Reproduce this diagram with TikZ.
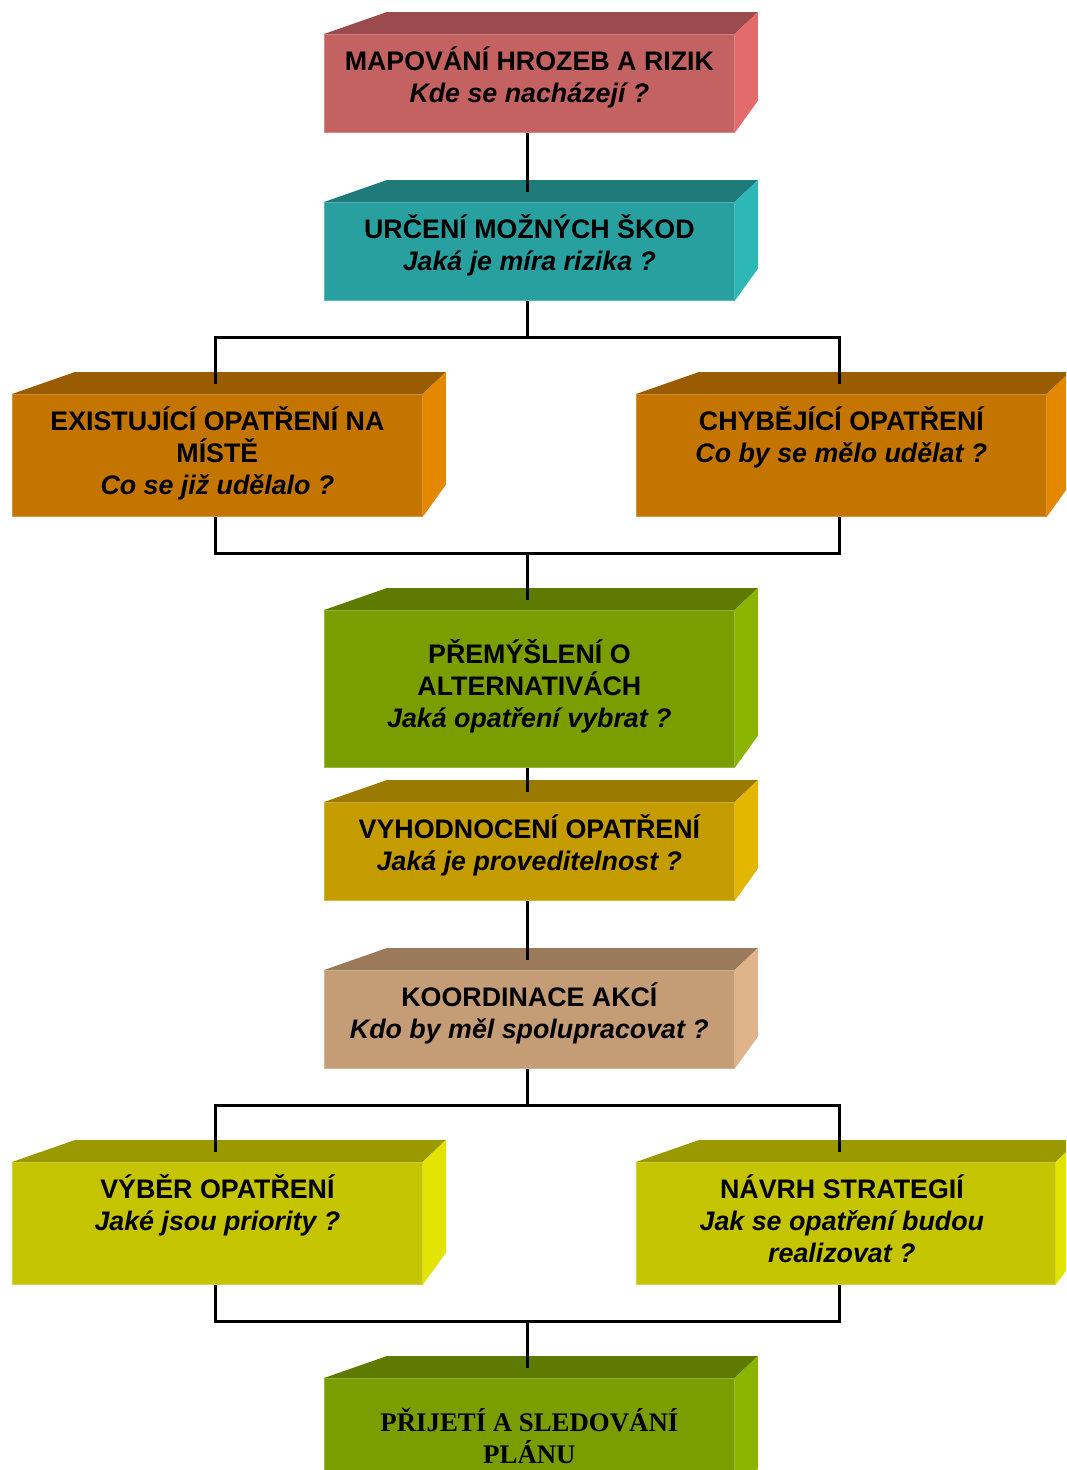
\documentclass[tikz,border=0pt]{standalone}
\usepackage{fontspec}
\setmainfont{Liberation Sans}
\newfontfamily\serifbold{Liberation Serif}
\usetikzlibrary{calc}
\definecolor{redF}{HTML}{C46262}\definecolor{redT}{HTML}{9B4B4D}\definecolor{redR}{HTML}{E36B6B}
\definecolor{tealF}{HTML}{29A0A0}\definecolor{tealT}{HTML}{1F7B79}\definecolor{tealR}{HTML}{2DB7B7}
\definecolor{orF}{HTML}{C47500}\definecolor{orT}{HTML}{9A5C00}\definecolor{orR}{HTML}{E38800}
\definecolor{grF}{HTML}{7A9E00}\definecolor{grT}{HTML}{5E7A00}\definecolor{grR}{HTML}{8AB400}
\definecolor{goF}{HTML}{C49C00}\definecolor{goT}{HTML}{9A7A00}\definecolor{goR}{HTML}{E3B600}
\definecolor{tanF}{HTML}{C49C76}\definecolor{tanT}{HTML}{9A7A5A}\definecolor{tanR}{HTML}{E0B48A}
\definecolor{ylF}{HTML}{C4C400}\definecolor{ylT}{HTML}{9A9A00}\definecolor{ylR}{HTML}{E3E300}
\newcommand\fl{\rule{0pt}{25pt}}
\newcommand\boxsides[3]{%
  \fill[#2] (#1.north west) -- (#1.north east) -- ($(#1.north east)+(23,-22)$) -- ($(#1.north west)+(63,-22)$) -- cycle;
  \fill[#3] (#1.north east) -- ($(#1.north east)+(23,-22)$) -- ($(#1.south east)+(23,-32)$) -- (#1.south east) -- cycle;}
\tikzset{
  front/.style={draw=#1!75!white, fill=#1, line width=0.8pt, inner sep=0pt, anchor=north west, minimum width=410pt},
  lbl/.style={anchor=north, inner sep=0pt, align=center, font=\fontsize{26.8}{32}\selectfont\bfseries},
  conn/.style={line width=3pt, black},
}
\begin{document}
\begin{tikzpicture}[x=1pt,y=-1pt]
\useasboundingbox (0,0) rectangle (1066,1470);
\clip (0,0) rectangle (1066,1470);
% fronts
\node[front=redF, minimum height=98pt] (b1) at (324,34) {};
\node[front=tealF, minimum height=98pt] (b2) at (324,202) {};
\node[front=orF, minimum height=122pt] (b3) at (12,394) {};
\node[front=orF, minimum height=122pt] (b4) at (636,394) {};
\node[front=grF, minimum height=157pt] (b5) at (324,610) {};
\node[front=goF, minimum height=98pt] (b6) at (324,802) {};
\node[front=tanF, minimum height=98pt] (b7) at (324,970) {};
\node[front=ylF, minimum height=122pt] (b8) at (12,1162) {};
\node[front=ylF, minimum height=122pt, minimum width=419pt] (b9) at (636,1162) {};
\node[front=grF, minimum height=122pt] (b10) at (324,1378) {};
% sides
\boxsides{b1}{redT}{redR}
\boxsides{b2}{tealT}{tealR}
\boxsides{b3}{orT}{orR}
\boxsides{b4}{orT}{orR}
\boxsides{b5}{grT}{grR}
\boxsides{b6}{goT}{goR}
\boxsides{b7}{tanT}{tanR}
\boxsides{b8}{ylT}{ylR}
\boxsides{b9}{ylT}{ylR}
\boxsides{b10}{grT}{grR}
% labels
\node[lbl] (l1) at ($(b1.north)+(0,11.5)$) {\fl MAPOVÁNÍ HROZEB A RIZIK\\ \itshape Kde se nacházejí ?};
\node[lbl] (l2) at ($(b2.north)+(0,11.5)$) {\fl URČENÍ MOŽNÝCH ŠKOD\\ \itshape Jaká je míra rizika ?};
\node[lbl] (l3) at ($(b3.north)+(0,11.5)$) {\fl EXISTUJÍCÍ OPATŘENÍ NA\\ MÍSTĚ\\ \itshape Co se již udělalo ?};
\node[lbl] (l4) at ($(b4.north)+(0,11.5)$) {\fl CHYBĚJÍCÍ OPATŘENÍ\\ \itshape Co by se mělo udělat ?};
\node[lbl] (l5) at ($(b5.north)+(0,28.5)$) {\fl PŘEMÝŠLENÍ O\\ ALTERNATIVÁCH\\ \itshape Jaká opatření vybrat ?};
\node[lbl] (l6) at ($(b6.north)+(0,11.5)$) {\fl VYHODNOCENÍ OPATŘENÍ\\ \itshape Jaká je proveditelnost ?};
\node[lbl] (l7) at ($(b7.north)+(0,11.5)$) {\fl KOORDINACE AKCÍ\\ \itshape Kdo by měl spolupracovat ?};
\node[lbl] (l8) at ($(b8.north)+(0,11.5)$) {\fl VÝBĚR OPATŘENÍ\\ \itshape Jaké jsou priority ?};
\node[lbl] (l9) at ($(b9.north)+(-4,11.5)$) {\fl NÁVRH STRATEGIÍ\\ \itshape Jak se opatření budou\\ \itshape realizovat ?};
\node[lbl, font=\fontsize{26.8}{32}\selectfont\serifbold\bfseries] (l10) at ($(b10.north)+(0,28.5)$) {\fl PŘIJETÍ A SLEDOVÁNÍ\\ PLÁNU};
% connector columns
\coordinate (C) at (527,0);
\coordinate (L) at (215,0);
\coordinate (R) at (839,0);
\coordinate (j1) at (527,337);
\coordinate (j2) at (527,553);
\coordinate (j3) at (527,1105);
\coordinate (j4) at (527,1321);
% connectors
\draw[conn] (b1.south -| C) -- ($(b2.north -| C)+(0,-10)$);
\draw[conn] (b2.south -| C) -- (j1);
\draw[conn] ($(b3.north -| L)+(0,-10)$) |- (j1) -| ($(b4.north -| R)+(0,-10)$);
\draw[conn] (b3.south -| L) |- (j2) -| (b4.south -| R);
\draw[conn] (j2) -- ($(b5.north -| C)+(0,-10)$);
\draw[conn] (b5.south -| C) -- ($(b6.north -| C)+(0,-10)$);
\draw[conn] (b6.south -| C) -- ($(b7.north -| C)+(0,-10)$);
\draw[conn] (b7.south -| C) -- (j3);
\draw[conn] ($(b8.north -| L)+(0,-10)$) |- (j3) -| ($(b9.north -| R)+(0,-10)$);
\draw[conn] (b8.south -| L) |- (j4) -| (b9.south -| R);
\draw[conn] (j4) -- ($(b10.north -| C)+(0,-10)$);
\end{tikzpicture}
\end{document}
